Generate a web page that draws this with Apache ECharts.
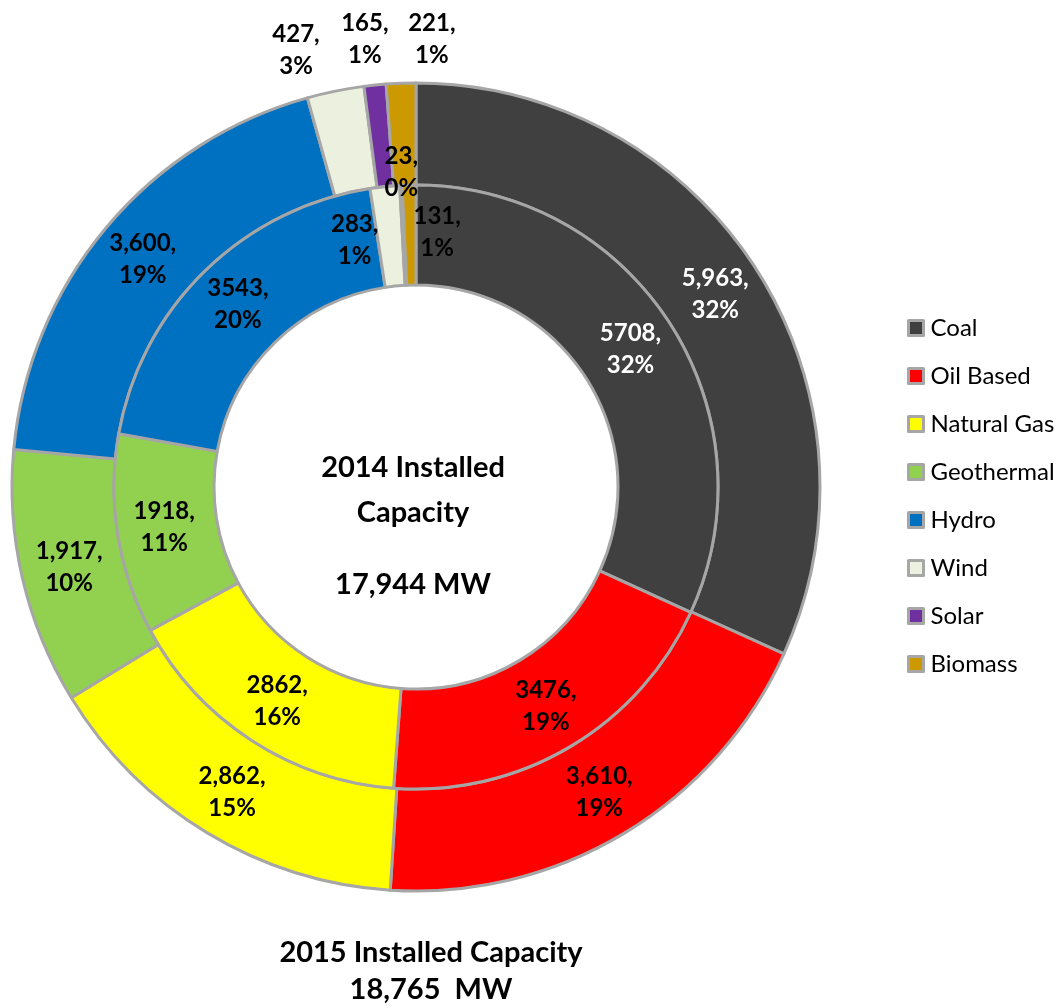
<!DOCTYPE html>
<html>
<head>
<meta charset="utf-8">
<script src="https://cdn.jsdelivr.net/npm/echarts@6/dist/echarts.min.js"></script>
<style>
html,body{margin:0;padding:0;background:#fff;}
#chart{width:1063px;height:1008px;}
</style>
</head>
<body>
<div id="chart"></div>
<script>
const categories = ['Coal', 'Oil Based', 'Natural Gas', 'Geothermal', 'Hydro', 'Wind', 'Solar', 'Biomass'];
const values2014 = [5708, 3476, 2862, 1918, 3543, 283, 23, 131];
const values2015 = [5963, 3610, 2862, 1917, 3600, 427, 165, 221];
const pct2014 = [32, 19, 16, 11, 20, 1, 0, 1];
const pct2015 = [32, 19, 15, 10, 19, 3, 1, 1];
const colors = ['#404040', '#FF0000', '#FFFF00', '#92D050', '#0070C0', '#EBF1DE', '#7030A0', '#CC9900'];
const labelColors = ['#FFFFFF', '#000', '#000', '#000', '#000', '#000', '#000', '#000'];
// label offsets (layout only)
const offsets2014 = [[0,0],[0,0],[0,0],[0,0],[0,0],[-35,7],[-2,-60],[27,0]];
const offsets2015 = [[0,0],[0,0],[0,0],[0,0],[0,0],[-49,-88],[-15,-94],[29,-92]];

const FONT = 'Lato';
const border = {borderColor: '#A6A6A6', borderWidth: 3};

function buildData(vals, pcts, offs, fmtThousands) {
  return categories.map((name, i) => ({
    name: name,
    value: vals[i],
    itemStyle: Object.assign({color: colors[i]}, border),
    label: {
      color: labelColors[i],
      offset: offs[i],
      formatter: (fmtThousands ? vals[i].toLocaleString('en-US') : String(vals[i])) + ',\n' + pcts[i] + '%'
    }
  }));
}

const chart = echarts.init(document.getElementById('chart'));
const labelBase = {
  show: true,
  position: 'inside',
  fontFamily: FONT,
  fontWeight: 'bold',
  fontSize: 24,
  lineHeight: 32
};
const titleStyle = {fontFamily: FONT, fontWeight: 'bold', fontSize: 29, fill: '#000', align: 'center', verticalAlign: 'middle'};
chart.setOption({
  animation: false,
  legend: {
    orient: 'vertical',
    left: 907,
    top: 316,
    padding: 0,
    itemWidth: 15,
    itemHeight: 15,
    itemGap: 24,
    icon: 'rect',
    itemStyle: {borderColor: '#A6A6A6', borderWidth: 3},
    textStyle: {fontFamily: FONT, fontSize: 24, color: '#000', lineHeight: 24, padding: [0,0,0,2]},
    data: categories
  },
  graphic: [
    {type: 'text', x: 413, y: 468, z: 10, style: Object.assign({text: '2014 Installed'}, titleStyle)},
    {type: 'text', x: 413, y: 513, z: 10, style: Object.assign({text: 'Capacity'}, titleStyle)},
    {type: 'text', x: 413, y: 585, z: 10, style: Object.assign({text: '17,944 MW'}, titleStyle)},
    {type: 'text', x: 431, y: 953, z: 10, style: Object.assign({text: '2015 Installed Capacity'}, titleStyle)},
    {type: 'text', x: 431, y: 990, z: 10, style: Object.assign({text: '18,765  MW'}, titleStyle)}
  ],
  series: [
    {
      name: '2015',
      type: 'pie',
      z: 2,
      center: [416, 487],
      radius: [302, 404],
      startAngle: 90,
      clockwise: true,
      avoidLabelOverlap: false,
      minShowLabelAngle: 0,
      labelLayout: {hideOverlap: false},
      emphasis: {disabled: true},
      label: labelBase,
      labelLine: {show: false},
      data: buildData(values2015, pct2015, offsets2015, true)
    },
    {
      name: '2014',
      type: 'pie',
      z: 3,
      center: [416, 487],
      radius: [202, 302],
      startAngle: 90,
      clockwise: true,
      avoidLabelOverlap: false,
      minShowLabelAngle: 0,
      labelLayout: {hideOverlap: false},
      emphasis: {disabled: true},
      label: labelBase,
      labelLine: {show: false},
      data: buildData(values2014, pct2014, offsets2014, false)
    }
  ]
});
</script>
</body>
</html>
